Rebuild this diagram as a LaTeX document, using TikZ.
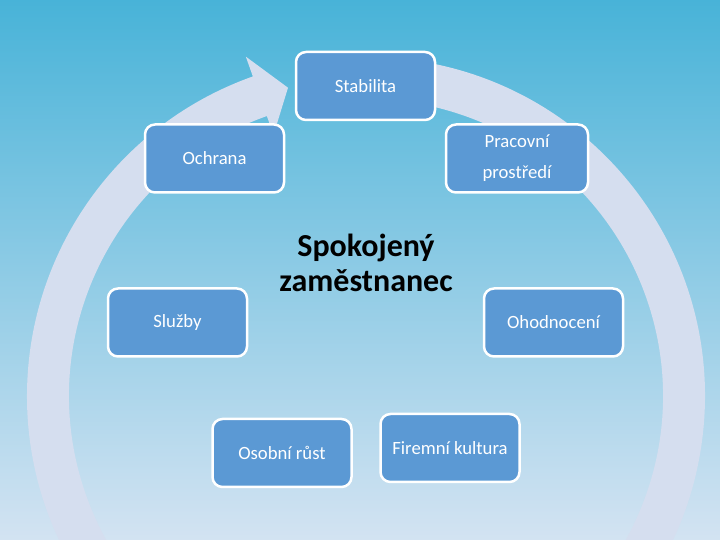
\documentclass[tikz,border=0pt]{standalone}
\usepackage{fontspec}
\setmainfont{Carlito}
\begin{document}
\begin{tikzpicture}[x=1pt,y=1pt]
% Couleurs
\definecolor{fondhaut}{RGB}{72,179,216}
\definecolor{fondbas}{RGB}{211,227,242}
\definecolor{blancbleu}{RGB}{213,222,239}
\definecolor{bleuboite}{RGB}{91,153,212}
% Styles
\tikzstyle{boite}=[draw=white,line width=2.5pt,fill=bleuboite,rounded corners=10pt,minimum width=139pt,minimum height=68pt,inner sep=0pt,text=white,align=center,font=\fontsize{18.7}{31}\selectfont]
\tikzstyle{cycle}=[fill=blancbleu]
\tikzstyle{titre}=[align=center,font=\bfseries\fontsize{32}{35}\selectfont]
% Dimensions Modifiables
\def\Cx{366}
\def\Cy{144}
\def\Rext{339}
\def\Rint{297}
\def\Rmil{318}
% Angles de la fleche
\def\Aqueue{85}
\def\Atete{109.5}
\def\Apointe{104.2}
% Fond
\useasboundingbox (0,0) rectangle (720,540);
\shade[top color=fondhaut,bottom color=fondbas] (0,0) rectangle (720,540);
\clip (0,0) rectangle (720,540);
% Fleche circulaire
\fill[cycle,shift={(\Cx,\Cy)}] (\Aqueue:\Rext) arc[start angle=\Aqueue,end angle=\Atete-360,radius=\Rext]
  -- (\Atete:360) -- (\Apointe:\Rmil) -- (\Atete:277) -- (\Atete:\Rint)
  arc[start angle=\Atete-360,end angle=\Aqueue,radius=\Rint] -- cycle;
% Boites
\node[boite] (stabilita) at (365.5,454) {Stabilita};
\node[boite] (ochrana) at (214.5,381.5) {Ochrana};
\node[boite,minimum width=142pt] (prostredi) at (517,381.5) {Pracovní\\prostředí};
\node[boite] (sluzby) at (177.5,217.5) {Služby};
\node[boite] (hodnoceni) at (553.5,217.5) {Ohodnocení};
\node[boite] (rust) at (282,87) {Osobní růst};
\node[boite] (kultura) at (450,92) {Firemní kultura};
% Centre
\node[titre] (zamestnanec) at (366,277) {Spokojený\\zaměstnanec};
\end{tikzpicture}
\end{document}
